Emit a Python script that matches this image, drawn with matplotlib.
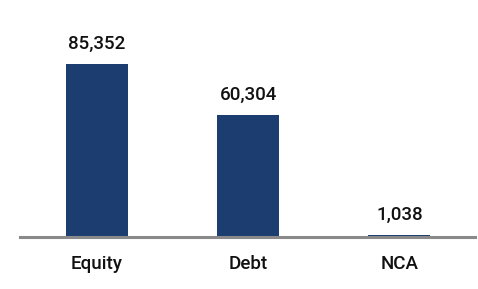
import matplotlib
matplotlib.use("Agg")
import matplotlib.pyplot as plt

categories = ["Equity", "Debt", "NCA"]
values = [85352, 60304, 1038]
labels = ["85,352", "60,304", "1,038"]

plt.rcParams['font.family'] = ['Roboto', 'DejaVu Sans']

W, H = 478, 289
fig = plt.figure(figsize=(W / 100, H / 100), dpi=100)
ax = fig.add_axes([20 / W, 1 - 237 / H, 455 / W, 217 / H])

x = list(range(len(categories)))
ax.bar(x, values, width=0.41, color="#1b3d6f", zorder=2)
ax.set_xlim(-0.51, 2.5)
ax.set_ylim(0, 107000)

for xi, v, lab in zip(x, values, labels):
    ax.annotate(lab, (xi, v), xytext=(0, 8), textcoords="offset points",
                ha="center", va="bottom", fontsize=13.5, fontweight="medium",
                color="#111111")

for s in ["top", "right", "left"]:
    ax.spines[s].set_visible(False)
ax.spines["bottom"].set_color("#8a8a8a")
ax.spines["bottom"].set_linewidth(2.2)
ax.spines["bottom"].set_zorder(3)
ax.set_yticks([])
ax.set_xticks(x)
ax.set_xticklabels(categories, fontsize=13.5, fontweight="medium", color="#111111")
ax.tick_params(axis="x", length=0, pad=13)

fig.savefig("out.png", dpi=100)
